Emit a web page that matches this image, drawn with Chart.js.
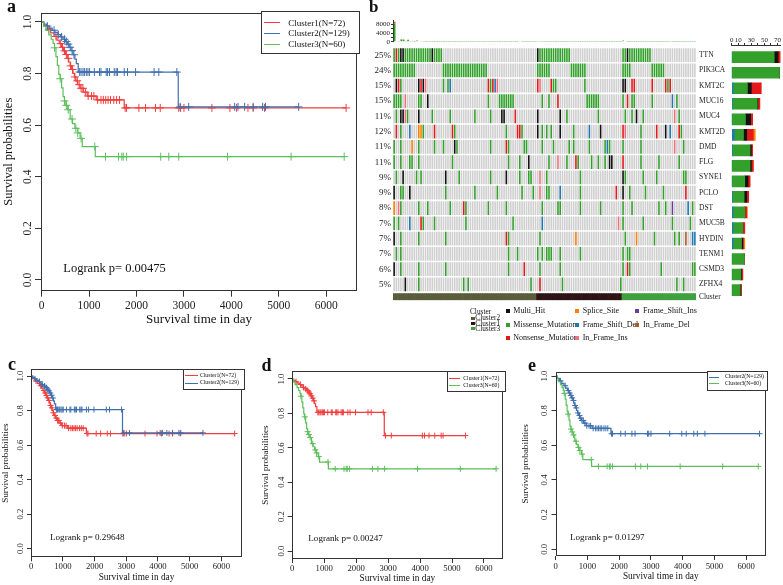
<!DOCTYPE html>
<html><head><meta charset="utf-8">
<script src="https://cdn.jsdelivr.net/npm/chart.js@4.4.0/dist/chart.umd.min.js"></script>
<style>
body{margin:0;background:#fff;}
#root{position:relative;width:783px;height:585px;overflow:hidden;background:#fff;font-family:"Liberation Serif","Times New Roman",serif;color:#111}
canvas{position:absolute}
.t{position:absolute;white-space:nowrap;line-height:1;transform:translateY(-50%)}
.lab{position:absolute;font-weight:bold;line-height:1;white-space:nowrap}
.lg{position:absolute;border:1px solid #333;box-sizing:border-box;background:#fff}
.ln{position:absolute;height:0}
.sq{position:absolute}
</style></head><body><div id="root">
<canvas id="kmA"></canvas><canvas id="kmC"></canvas><canvas id="kmD"></canvas><canvas id="kmE"></canvas>
<canvas id="tmb"></canvas><canvas id="onco"></canvas><canvas id="rbar"></canvas>
</div>
<script>
const SERIF = '"Liberation Serif", "Times New Roman", serif';

// ---------- Kaplan-Meier data (days, survival probability) ----------
const cl1Time = [0, 50, 120, 190, 260, 320, 370, 420, 460, 500, 540, 570, 600, 630, 660, 690, 720, 760, 810, 880, 960, 1150, 1740];
const cl1Surv = [1.0, 0.986, 0.972, 0.958, 0.944, 0.930, 0.916, 0.902, 0.888, 0.874, 0.859, 0.845, 0.830, 0.816, 0.801, 0.787, 0.772, 0.757, 0.743, 0.728, 0.713, 0.698, 0.667];
const cl1Censor = [150, 300, 400, 440, 480, 520, 560, 610, 650, 700, 750, 790, 830, 870, 920, 980, 1050, 1100, 1180, 1250, 1300, 1350, 1400, 1450, 1520, 1580, 1640, 1760, 1790, 2050, 2190, 2400, 2500, 2890, 2930, 3000, 3590, 3970, 4110, 4350, 4460, 4700, 6420];

const cl2Time = [0, 40, 100, 160, 220, 280, 340, 400, 450, 500, 540, 580, 620, 660, 700, 730, 770, 2880];
const cl2Surv = [1.0, 0.992, 0.984, 0.976, 0.968, 0.960, 0.951, 0.942, 0.933, 0.924, 0.914, 0.902, 0.889, 0.873, 0.856, 0.839, 0.806, 0.671];
const cl2Censor = [120, 260, 350, 420, 480, 520, 560, 600, 640, 680, 800, 830, 870, 900, 940, 975, 1010, 1110, 1220, 1250, 1360, 1390, 1430, 1530, 1570, 1600, 1740, 1810, 1980, 2370, 2470, 2850, 2920, 3100, 4070, 4140, 4280, 4460, 4660, 4720, 5420];

const cl3Time = [0, 40, 90, 150, 200, 240, 270, 300, 330, 360, 390, 420, 450, 480, 510, 550, 600, 650, 700, 760, 810, 855, 1130];
const cl3Surv = [1.0, 0.983, 0.967, 0.950, 0.933, 0.917, 0.900, 0.866, 0.832, 0.797, 0.780, 0.745, 0.711, 0.694, 0.677, 0.660, 0.624, 0.606, 0.588, 0.570, 0.549, 0.517, 0.478];
const cl3Censor = [270, 390, 480, 520, 560, 640, 720, 760, 830, 1120, 1345, 1620, 1690, 1720, 1790, 2510, 2680, 2890, 3920, 5260, 6380];

const xTickValues = [0, 1000, 2000, 3000, 4000, 5000, 6000];
const yTickValues = [0, 0.2, 0.4, 0.6, 0.8, 1.0];

// ---------- Oncoplot data ----------
const genes = ["TTN","PIK3CA","KMT2C","MUC16","MUC4","KMT2D","DMD","FLG","SYNE1","PCLO","DST","MUC5B","HYDIN","TENM1","CSMD3","ZFHX4"];
const genePct = ["25%","24%","15%","15%","11%","12%","11%","11%","9%","9%","8%","7%","7%","7%","6%","5%"];
const clusterNames = ["Cluster2","Cluster1","Cluster3"];
const clusterSizes = [64, 38, 33];
// mutated cells per gene: "col[-col]Code"; M missense, N nonsense, H multi-hit, S splice, D frame-shift del, I frame-shift ins, d in-frame del, i in-frame ins
const oncoRows = [
 "0-21M 1N 3H 4H 17H 64-78M 64H 102-114M 104H",
 "0-9M 22-41M 64-69M 79-85M 102-105M 115-120M",
 "1H 2N 3M 11H 12N 13H 14i 22M 24M 25D 42N 43M 44N 45D 46i 64N 65i 70N 71M 72M 85M 102H 103H 106N 107N 115N 121N 122M 123N",
 "0-3M 5i 11-12M 15H 42M 47-53M 66M 69M 73N 86-91M 102M 104N 106M 107M 115M 124D 126M",
 "1M 3H 4H 5i 6M 11H 17M 25M 36M 43M 48H 49H 54N 64H 74H 77M 91M 103M 106M 108H 111M 125i 127M",
 "1N 3M 7D 11S 12S 13M 18N 26N 27M 50M 55N 56N 57M 64H 66M 68M 70M 74H 80M 87D 92H 102N 103i 110M 117N 121H 123D 127N 128M",
 "0M 3M 8S 11M 18M 22M 27H 28M 43M 50N 51M 58-59M 66M 71M 78M 80M 87M 94M 95D 96M 102M 110M 125i 129M",
 "0M 3M 7-8M 11M 26M 51M 56M 60H 69M 73i 77M 81N 82M 88M 91M 94M 96-97H 102N 110M 118M 127M",
 "1M 4H 10M 12M 23H 29M 43M 50H 56M 60-61M 65i 68M 83M 102H 103M 111M 117M 129-130M",
 "0H 3-4M 7H 23M 36M 46M 57M 62M 65i 68-69M 74D 83M 99N 102H 105M 112M 120M 130N",
 "0S 2i 3M 11M 15M 25M 31N 32M 42M 50M 66M 73-74M 83M 92M 102M 106M 118M 121M 124I 131D 133M",
 "0M 2M 7D 12N 13M 18M 32M 53M 66D 100i 102M 111M 124M 132M",
 "0H 3M 11M 23M 50N 51M 65M 81S 103M 108S 116M 125M 127M 130d 133-134D",
 "1M 3M 51M 55M 64M 66M 68-70M 74M 83M 102M 104-105M",
 "0H 3M 11M 23M 51M 58N 65M 74M 102M 104N 105M 119M 133-134M",
 "5H 11M 31M 33M 61M 65N 75M 101M 126M 129M"
];
// top bar: variants per sample
const tmbMissense = [8300,200,150,1000,900,120,800,150,100,80,500,250,350,100,60,50,40,60,30,50,40,30,20,40,30,50,20,30,40,20,30,50,20,30,40,20,30,20,40,30,20,30,20,40,30,20,30,50,20,30,40,20,30,20,40,30,200,30,20,40,20,30,20,30,
 300,150,80,60,50,40,60,30,50,40,30,60,40,30,20,40,30,50,30,20,40,30,50,20,30,40,20,30,40,20,60,30,20,40,30,20,30,40,
 500,300,60,40,50,30,40,30,20,40,30,60,30,20,40,30,20,30,40,20,30,150,20,30,40,20,30,20,40,30,20,30,40];
const tmbOtherCols = [0, 1, 3, 4, 6, 10, 12, 56, 64, 102];
const tmbOtherVals = [900, 40, 150, 120, 100, 60, 40, 30, 40, 60];
// right bar: number of samples per variant class per gene
const barFrameDel = [0, 0, 2, 1, 0, 4, 1, 0, 0, 1, 2, 2, 2, 0, 0, 0];
const barMissense = [65, 73, 22, 38, 21, 14, 27, 28, 20, 18, 18, 15, 13, 19, 14, 13];
const barMultiHit = [6, 0, 6, 1, 8, 5, 2, 2, 5, 4, 0, 0, 2, 0, 1, 1];
const barNonsense = [3, 0, 15, 3, 3, 10, 2, 3, 3, 3, 3, 3, 1, 0, 2, 1];
const barSplice   = [0, 0, 0, 0, 0, 3, 0, 0, 0, 0, 1, 0, 2, 0, 0, 0];
const barTicks = [0, 10, 20, 30, 40, 50, 60, 70];
const barTickShown = [0, 10, 30, 50, 70];

// ---------- styles ----------
const RED = '#F03E3E', BLUE = '#3F6FAF', GREEN = '#5CBF5C';
const mutColors = {M:'#33A02C', N:'#E31A1C', H:'#111111', S:'#FF7F00', D:'#1F78B4', I:'#6A3D9A', d:'#B15928', i:'#F0707E', '.':'#D0D0D0'};
const clusterColors = {Cluster2:'#5A5D3B', Cluster1:'#2E1414', Cluster3:'#3FA03F'};

const root = document.getElementById('root');
function place(cv, l, t, w, h){ cv.width = w; cv.height = h; cv.style.left = l+'px'; cv.style.top = t+'px'; }

const boxPlugin = {id:'box', afterDraw(chart){ const a = chart.chartArea, c = chart.ctx; c.save(); c.strokeStyle = '#333'; c.lineWidth = 1;
  c.strokeRect(Math.round(a.left)+0.5, Math.round(a.top)+0.5, Math.round(a.right)-Math.round(a.left)-1, Math.round(a.bottom)-Math.round(a.top)-1); c.restore(); }};

function survAt(T, S, t){ let s = S[0]; for (let i = 0; i < T.length; i++){ if (T[i] <= t) s = S[i]; else break; } return s; }
function kmSets(T, S, C, color, r){
  const last = Math.max(C[C.length-1], T[T.length-1]);
  const line = T.map((t,i)=>({x:t, y:S[i]})); line.push({x:last, y:S[S.length-1]});
  return [
    {data:line, showLine:true, stepped:true, borderColor:color, borderWidth:1.2, pointRadius:0, fill:false},
    {data:C.map(t=>({x:t, y:survAt(T,S,t)})), showLine:false, pointStyle:'cross', pointRadius:r, borderColor:color, backgroundColor:color, borderWidth:1}
  ];
}
function makeKM(id, g, sets){
  const cv = document.getElementById(id);
  place(cv, g.cl, g.ct, g.cw, g.ch);
  const datasets = [];
  sets.forEach(s => datasets.push(...kmSets(s.T, s.S, s.C, s.color, g.cross)));
  const grid = {display:true, drawOnChartArea:false, drawTicks:true, tickLength:g.tl, color:'#333', lineWidth:1};
  new Chart(cv, {
    type:'scatter', data:{datasets},
    options:{responsive:false, animation:false, devicePixelRatio:1, events:[],
      layout:{padding:{top:g.bt-g.ct, right:g.cl+g.cw-g.br, left:0, bottom:0}},
      plugins:{legend:{display:false}, tooltip:{enabled:false}},
      scales:{
        x:{type:'linear', min:g.xmin, max:g.xmax,
          afterBuildTicks:s=>{ s.ticks = xTickValues.map(v=>({value:v})); },
          afterFit:s=>{ s.height = g.ct+g.ch-g.bb; },
          grid, border:{display:false},
          ticks:{autoSkip:false, maxRotation:0, padding:g.xpad, color:'#222', font:{family:SERIF, size:g.tick}, callback:v=>String(v)},
          title:{display:true, text:'Survival time in day', color:'#111', font:{family:SERIF, size:g.title}, padding:0}},
        y:{type:'linear', min:g.ymin, max:g.ymax,
          afterBuildTicks:s=>{ s.ticks = yTickValues.map(v=>({value:v})); },
          afterFit:s=>{ s.width = g.bl-g.cl; },
          grid, border:{display:false},
          ticks:{autoSkip:false, minRotation:90, maxRotation:90, crossAlign:'center', padding:g.ypad, color:'#222', font:{family:SERIF, size:g.tick}, callback:v=>Number(v).toFixed(1)},
          title:{display:true, text:'Survival probabilities', color:'#111', font:{family:SERIF, size:g.ytitle}, padding:{top:g.ytpad, bottom:0}}}
      }},
    plugins:[boxPlugin]
  });
}

const c1 = {T:cl1Time, S:cl1Surv, C:cl1Censor}, c2 = {T:cl2Time, S:cl2Surv, C:cl2Censor}, c3 = {T:cl3Time, S:cl3Surv, C:cl3Censor};
makeKM('kmA', {cl:0, ct:0, cw:362, ch:327, bl:41, bt:12.7, br:360, bb:290.7, xmin:-15, xmax:6650, ymin:-0.0415, ymax:1.036, tl:6, tick:11.5, title:13, ytitle:12.5, xpad:2.4, ypad:0, ytpad:1, cross:4},
  [{...c3, color:GREEN}, {...c2, color:BLUE}, {...c1, color:RED}]);
makeKM('kmC', {cl:0, ct:360, cw:247, ch:223, bl:31, bt:369, br:245, bb:557.3, xmin:-8, xmax:6652, ymin:-0.05, ymax:1.041, tl:4, tick:8.7, title:9.3, ytitle:9.2, xpad:0, ypad:1.2, ytpad:0, cross:3},
  [{...c2, color:BLUE}, {...c1, color:RED}]);
makeKM('kmD', {cl:260, ct:362, cw:248, ch:222, bl:291.7, bt:371, br:506, bb:559, xmin:-18, xmax:6596, ymin:-0.0465, ymax:1.0465, tl:4, tick:8.7, title:9.3, ytitle:9.2, xpad:0, ypad:0.4, ytpad:0, cross:3},
  [{...c3, color:GREEN}, {...c2, color:RED}]);
makeKM('kmE', {cl:520, ct:362, cw:251, ch:220, bl:555.5, bt:371.7, br:768.3, bb:556, xmin:-6, xmax:6623, ymin:-0.039, ymax:1.025, tl:4, tick:8.7, title:9.3, ytitle:9.2, xpad:1.2, ypad:1.8, ytpad:0, cross:3},
  [{...c3, color:GREEN}, {...c1, color:BLUE}]);

// ---------- oncoplot ----------
const nCols = clusterSizes.reduce((a,b)=>a+b, 0);
const colLabels = Array.from({length:nCols}, (_,j)=>String(j));
const colCluster = [];
clusterNames.forEach((n,k)=>{ for (let j = 0; j < clusterSizes[k]; j++) colCluster.push(n); });
function parseRow(str){
  const row = new Array(nCols).fill('.');
  str.trim().split(/\s+/).forEach(tok=>{ const m = tok.match(/^(\d+)(?:-(\d+))?([A-Za-z])$/); const a = +m[1], b = m[2] ? +m[2] : a; for (let j = a; j <= b; j++) row[j] = m[3]; });
  return row;
}
const matrix = oncoRows.map(parseRow);

{
  const cv = document.getElementById('onco'); place(cv, 355, 40, 385, 268);
  const datasets = matrix.map((row,i)=>({data:row.map(()=>[i-0.45, i+0.45]), backgroundColor:row.map(c=>mutColors[c]), barPercentage:0.72, categoryPercentage:1, grouped:false, borderWidth:0, yAxisID:'yl'}));
  datasets.push({data:colCluster.map(()=>[15.59, 16.01]), backgroundColor:colCluster.map(c=>clusterColors[c]), barPercentage:1, categoryPercentage:1, grouped:false, borderWidth:0, yAxisID:'yl'});
  const rightTicks = genes.map((g,i)=>i).concat([15.82]);
  new Chart(cv, {type:'bar', data:{labels:colLabels, datasets},
    options:{responsive:false, animation:false, devicePixelRatio:1, events:[],
      layout:{padding:{top:7.3, bottom:0.4, left:0, right:0}},
      plugins:{legend:{display:false}, tooltip:{enabled:false}},
      scales:{
        x:{type:'category', display:false},
        yl:{type:'linear', position:'left', reverse:true, min:-0.5, max:16.05, grid:{display:false, drawTicks:false}, border:{display:false},
          afterBuildTicks:s=>{ s.ticks = genes.map((g,i)=>({value:i})); }, afterFit:s=>{ s.width = 38; },
          ticks:{autoSkip:false, padding:2, color:'#222', font:{family:SERIF, size:9}, callback:v=>genePct[v]}},
        yr:{type:'linear', position:'right', reverse:true, min:-0.5, max:16.05, grid:{display:false, drawTicks:false}, border:{display:false},
          afterBuildTicks:s=>{ s.ticks = rightTicks.map(v=>({value:v})); }, afterFit:s=>{ s.width = 44; },
          ticks:{autoSkip:false, padding:3, color:'#222', font:{family:SERIF, size:7.5}, callback:v=>(Number.isInteger(v) ? genes[v] : 'Cluster')}}
      }}});
}
{
  const cv = document.getElementById('tmb'); place(cv, 355, 15, 341, 32);
  const other = new Array(nCols).fill(0); tmbOtherCols.forEach((c,k)=>{ other[c] = tmbOtherVals[k]; });
  new Chart(cv, {type:'bar', data:{labels:colLabels, datasets:[
      {data:tmbMissense, backgroundColor:'#33A02C', barPercentage:0.8, categoryPercentage:1, borderWidth:0},
      {data:other, backgroundColor:'#E8503A', barPercentage:0.8, categoryPercentage:1, borderWidth:0}]},
    options:{responsive:false, animation:false, devicePixelRatio:1, events:[],
      layout:{padding:{top:5.9, bottom:1.3, left:0, right:0}},
      plugins:{legend:{display:false}, tooltip:{enabled:false}},
      scales:{
        x:{type:'category', display:false, stacked:true},
        y:{type:'linear', stacked:true, min:0, max:9600, afterBuildTicks:s=>{ s.ticks = [0,2000,4000,6000,8000].map(v=>({value:v})); }, afterFit:s=>{ s.width = 38.5; },
          grid:{display:true, drawOnChartArea:false, tickLength:2.5, color:'#333'}, border:{display:true, color:'#333'},
          ticks:{autoSkip:false, padding:1, color:'#222', font:{family:SERIF, size:7}, callback:v=>([0,4000,8000].includes(v) ? String(v) : '')}}
      }}});
}
{
  const cv = document.getElementById('rbar'); place(cv, 700, 20, 83, 280);
  const mk = (arr, col)=>({data:arr.map((v,i)=>({x:v, y:i})), backgroundColor:col, barThickness:11, borderWidth:0});
  new Chart(cv, {type:'bar', data:{datasets:[mk(barFrameDel, mutColors.D), mk(barMissense, mutColors.M), mk(barMultiHit, mutColors.H), mk(barNonsense, mutColors.N), mk(barSplice, mutColors.S)]},
    options:{indexAxis:'y', responsive:false, animation:false, devicePixelRatio:1, events:[],
      layout:{padding:{left:31.7, right:2.25, top:0, bottom:0}},
      plugins:{legend:{display:false}, tooltip:{enabled:false}},
      scales:{
        y:{type:'linear', display:false, offset:false, reverse:true, min:-0.786, max:15.64, stacked:true},
        x:{type:'linear', position:'top', stacked:true, min:0, max:75, afterBuildTicks:s=>{ s.ticks = barTicks.map(v=>({value:v})); }, afterFit:s=>{ s.height = 25; },
          grid:{display:true, drawOnChartArea:false, tickLength:2, color:'#333'}, border:{display:true, color:'#333'},
          ticks:{autoSkip:false, maxRotation:0, padding:-1.5, color:'#222', font:{family:SERIF, size:7}, callback:v=>(barTickShown.includes(v) ? String(v) : '')}}
      }}});
}

// ---------- text overlays ----------
function txt(x, yc, s, size, extra){ const d = document.createElement('div'); d.className = 't'; d.style.left = x+'px'; d.style.top = yc+'px'; d.style.fontSize = size+'px'; if (extra) Object.assign(d.style, extra); d.textContent = s; root.appendChild(d); return d; }
function lab(x, top, s, size){ const d = document.createElement('div'); d.className = 'lab'; d.style.left = x+'px'; d.style.top = top+'px'; d.style.fontSize = size+'px'; d.textContent = s; root.appendChild(d); }
function box(x, y, w, h){ const d = document.createElement('div'); d.className = 'lg'; Object.assign(d.style, {left:x+'px', top:y+'px', width:w+'px', height:h+'px'}); root.appendChild(d); }
function line(x, y, w, col, lw){ const d = document.createElement('div'); d.className = 'ln'; Object.assign(d.style, {left:x+'px', top:(y-lw/2)+'px', width:w+'px', borderTop:lw+'px solid '+col}); root.appendChild(d); }
function sq(x, yc, s, col){ const d = document.createElement('div'); d.className = 'sq'; Object.assign(d.style, {left:x+'px', top:(yc-s/2)+'px', width:s+'px', height:s+'px', background:col}); root.appendChild(d); }

lab(7, -3.4, 'a', 18); lab(369, -1.8, 'b', 17); lab(8, 354.9, 'c', 18); lab(261.5, 355.6, 'd', 18); lab(528, 355.6, 'e', 18);

txt(63.3, 268.3, 'Logrank p= 0.00475', 12.5);
txt(50, 537.7, 'Logrank p= 0.29648', 9.1);
txt(308.3, 539.3, 'Logrank p= 0.00247', 9.1);
txt(570, 538.3, 'Logrank p= 0.01297', 9.1);

function kmLegend(bx, by, bw, bh, lx, lw, tx, ys, items, size){
  box(bx, by, bw, bh);
  items.forEach((it,k)=>{ line(lx, ys[k], lw, it[1], 1.2); txt(tx, ys[k], it[0], size); });
}
kmLegend(261, 11, 99, 43, 264, 16, 288.3, [23, 33.3, 44.3], [['Cluster1(N=72)', RED], ['Cluster2(N=129)', BLUE], ['Cluster3(N=60)', GREEN]], 9);
kmLegend(182.7, 369, 62.3, 21, 185, 13, 200, [376, 383.3], [['Cluster1(N=72)', RED], ['Cluster2(N=129)', BLUE]], 5.7);
kmLegend(446.7, 371, 59.3, 20.7, 449, 11, 463.3, [379, 386], [['Cluster1(N=72)', RED], ['Cluster3(N=60)', GREEN]], 5.7);
kmLegend(707.3, 371, 61, 19.7, 709, 10, 725, [377.3, 384], [['Cluster2(N=129)', BLUE], ['Cluster3(N=60)', GREEN]], 5.7);

// oncoplot legend
txt(470, 311.5, 'Cluster', 7.3);
[['Cluster2', 318.3], ['Cluster1', 323.5], ['Cluster3', 328.7]].forEach(([n, y])=>{ sq(471, y, 3.5, clusterColors[n]); txt(475.3, y, n, 7.3); });
const legendRows = [
  [['Multi_Hit', mutColors.H], ['Splice_Site', mutColors.S], ['Frame_Shift_Ins', mutColors.I]],
  [['Missense_Mutation', mutColors.M], ['Frame_Shift_Del', mutColors.D], ['In_Frame_Del', mutColors.d]],
  [['Nonsense_Mutation', mutColors.N], ['In_Frame_Ins', mutColors.i]]
];
const legSqX = [505.7, 575, 634.5], legTxX = [513.3, 582.7, 643], legY = [311, 325, 337.7];
legendRows.forEach((row, r)=>row.forEach(([n, col], c)=>{ sq(legSqX[c], legY[r], 4, col); txt(legTxX[c], legY[r], n, 8); }));
</script></body></html>
